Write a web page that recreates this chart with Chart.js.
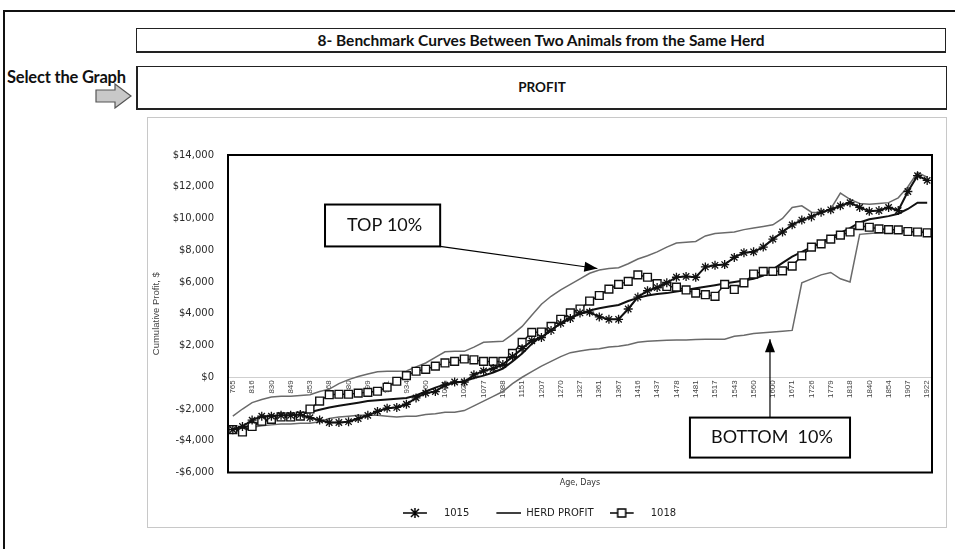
<!DOCTYPE html>
<html>
<head>
<meta charset="utf-8">
<script src="https://cdn.jsdelivr.net/npm/chart.js@4.4.1/dist/chart.umd.min.js"></script>
<style>
  body { margin: 0; width: 955px; height: 549px; overflow: hidden; background: #fff; position: relative; font-family: Lato, sans-serif; }
  #frame { position: absolute; left: 3px; top: 10px; width: 1000px; height: 600px; border: 2px solid #111; }
  .box { position: absolute; left: 136px; width: 808px; border: 1px solid #222; text-align: center; font-weight: bold; color: #111; }
  #title { top: 28px; height: 22px; line-height: 22px; font-size: 15.5px; border-bottom-width: 2px; }
  #graph { top: 66px; height: 41px; line-height: 41px; font-size: 13.5px; border-left-width: 2px; border-bottom-width: 2px; }
  #select { position: absolute; left: 7px; top: 67px; font-size: 16.5px; font-weight: bold; color: #111; letter-spacing: -0.2px; }
  #arrow { position: absolute; left: 95px; top: 83px; }
  #chartBox { position: absolute; left: 147px; top: 117px; width: 798px; height: 409px; border: 1px solid #c8c8c8; }
  #wrap { position: absolute; left: 147px; top: 117px; }
</style>
</head>
<body>
<div id="frame"></div>
<div class="box" id="title">8- Benchmark Curves Between Two Animals from the Same Herd</div>
<div id="select">Select the Graph</div>
<svg id="arrow" width="38" height="26"><polygon points="1,7 20,7 20,1 36,13 20,25 20,19 1,19" fill="#c8c8c8" stroke="#555" stroke-width="1.2"/></svg>
<div class="box" id="graph">PROFIT</div>
<div id="chartBox"></div>
<div id="wrap"><canvas id="myChart" width="799" height="411"></canvas></div>
<script>
// age in days (every other one is printed on the axis)
var days = [765, 790, 816, 823, 830, 840, 849, 851, 853, 860,
            868, 874, 880, 890, 899, 905, 911, 925, 934, 948,
            960, 990, 1021, 1024, 1027, 1050, 1077, 1082, 1088, 1120,
            1151, 1180, 1207, 1240, 1270, 1300, 1327, 1345, 1361, 1364,
            1367, 1390, 1416, 1425, 1437, 1455, 1478, 1480, 1481, 1500,
            1517, 1530, 1543, 1551, 1560, 1580, 1600, 1640, 1671, 1700,
            1726, 1750, 1779, 1800, 1818, 1830, 1840, 1847, 1854, 1880,
            1907, 1915, 1922]

var animal1015 = [-3300, -3100, -2700, -2450, -2450, -2400, -2400, -2350, -2550, -2700,
                  -2850, -2850, -2800, -2600, -2400, -2150, -1950, -1900, -1700, -1300,
                  -1000, -900, -500, -300, -300, 150, 400, 550, 800, 1300,
                  1800, 2300, 2500, 2950, 3400, 3700, 4050, 4100, 3800, 3650,
                  3650, 4300, 5050, 5450, 5650, 5950, 6300, 6350, 6300, 6950,
                  7050, 7100, 7550, 7850, 7900, 8200, 8700, 9150, 9600, 9900,
                  10100, 10400, 10550, 10800, 11000, 10700, 10450, 10500, 10700, 10500,
                  11700, 12700, 12400]

var herdProfit = [-3350, -3200, -3000, -2800, -2650, -2550, -2450, -2300, -2200, -2050,
                  -1900, -1800, -1700, -1600, -1500, -1450, -1400, -1350, -1300, -1150,
                  -900, -650, -450, -350, -250, -50, 100, 300, 550, 1000,
                  1500, 2100, 2600, 3000, 3400, 3750, 4000, 4200, 4350, 4450,
                  4550, 4800, 5000, 5150, 5250, 5300, 5400, 5500, 5600, 5700,
                  5800, 5900, 6000, 6100, 6200, 6400, 6800, 7200, 7600, 7900,
                  8200, 8500, 8800, 9100, 9400, 9750, 9950, 10050, 10150, 10300,
                  10600, 11000, 11000]

var animal1018 = [-3300, -3450, -3100, -2770, -2650, -2500, -2500, -2450, -2000, -1500,
                  -1100, -1070, -1070, -1000, -950, -880, -630, -250, 100, 380,
                  500, 700, 900, 1000, 1150, 1100, 1000, 1000, 1000, 1500,
                  2200, 2830, 2850, 3200, 3650, 4050, 4300, 4800, 5150, 5550,
                  5850, 6040, 6450, 6300, 5900, 5720, 5680, 5500, 5300, 5200,
                  5100, 5850, 5530, 5950, 6500, 6670, 6670, 6700, 7000, 7650,
                  8200, 8400, 8700, 8950, 9150, 9550, 9450, 9350, 9300, 9280,
                  9180, 9150, 9100]

var top10 = [-2450, -2000, -1600, -1400, -1250, -1200, -1200, -1150, -1100, -900,
             -750, -400, -150, 50, 200, 350, 380, 380, 400, 650,
             900, 1250, 1600, 1630, 1630, 1900, 2200, 2230, 2260, 2700,
             3200, 3900, 4600, 5100, 5500, 5850, 6200, 6550, 6750, 6850,
             6900, 7150, 7450, 7650, 7900, 8200, 8450, 8500, 8550, 8900,
             9050, 9100, 9150, 9300, 9400, 9500, 9600, 10000, 10700, 10800,
             10400, 10350, 10600, 11600, 11200, 10950, 10900, 10950, 11000, 11300,
             12000, 12900, 12600]

var bottom10 = [-3350, -3250, -3150, -3050, -3000, -2950, -2950, -2900, -2900, -2800,
                -2600, -2500, -2450, -2400, -2400, -2400, -2450, -2500, -2450, -2450,
                -2350, -2300, -2200, -2200, -2100, -1800, -1500, -1200, -900, -400,
                0, 350, 700, 1000, 1300, 1550, 1650, 1750, 1800, 1900,
                1950, 2050, 2200, 2260, 2300, 2330, 2350, 2350, 2380, 2390,
                2400, 2400, 2580, 2650, 2750, 2800, 2850, 2900, 2950, 5950,
                6200, 6450, 6600, 6200, 6000, 9000, 9050, 9100, 9100, 9150,
                9150, 9200, 9200]

var yTicks = [-6000, 14000, 2000]   // min, max, step

// callouts: [category index, profit]
var callouts = [
    {text: 'TOP 10%', box: [9.56, 21.5, 10880, 8240], from: [21.5, 8240], to: [37.8, 6850]},
    {text: 'BOTTOM  10%', box: [47.4, 64.0, -2540, -5060], from: [55.7, -2540], to: [55.7, 2400]}
]

function legendIcon(kind) {
    var c = document.createElement('canvas')
    c.width = 36; c.height = 12
    var g = c.getContext('2d')
    g.strokeStyle = '#000'
    g.lineWidth = 1.5
    var x0 = kind == 'line' ? 11 : 0
    var x1 = kind == 'line' ? 36 : 24
    var cx = (x0 + x1) / 2
    g.beginPath(); g.moveTo(x0, 6); g.lineTo(x1, 6); g.stroke()
    if (kind == 'star') {
        g.beginPath()
        g.moveTo(cx - 4, 2); g.lineTo(cx + 4, 10)
        g.moveTo(cx + 4, 2); g.lineTo(cx - 4, 10)
        g.moveTo(cx, 1); g.lineTo(cx, 11)
        g.stroke()
    } else if (kind == 'rect') {
        g.fillStyle = '#fff'
        g.fillRect(cx - 4, 2, 8, 8)
        g.strokeRect(cx - 4, 2, 8, 8)
    }
    return c
}
var icons = [legendIcon('star'), legendIcon('line'), legendIcon('rect')]

var frameAndNotes = {
    id: 'frameAndNotes',
    afterDraw: function(chart) {
        var ctx = chart.ctx, a = chart.chartArea
        var x = chart.scales.x, y = chart.scales.y
        ctx.save()
        ctx.strokeStyle = '#000'
        ctx.lineWidth = 2
        ctx.strokeRect(a.left, a.top, a.right - a.left, a.bottom - a.top)

        callouts.forEach(function(c) {
            var sx = x.getPixelForValue(c.from[0]), sy = y.getPixelForValue(c.from[1])
            var tx = x.getPixelForValue(c.to[0]), ty = y.getPixelForValue(c.to[1])
            var ang = Math.atan2(ty - sy, tx - sx)
            ctx.lineWidth = 1.2
            ctx.beginPath(); ctx.moveTo(sx, sy); ctx.lineTo(tx, ty); ctx.stroke()
            ctx.beginPath()
            ctx.moveTo(tx, ty)
            ctx.lineTo(tx - 13 * Math.cos(ang) + 5 * Math.sin(ang), ty - 13 * Math.sin(ang) - 5 * Math.cos(ang))
            ctx.lineTo(tx - 13 * Math.cos(ang) - 5 * Math.sin(ang), ty - 13 * Math.sin(ang) + 5 * Math.cos(ang))
            ctx.closePath()
            ctx.fillStyle = '#000'
            ctx.fill()

            var l = x.getPixelForValue(c.box[0]), r = x.getPixelForValue(c.box[1])
            var t = y.getPixelForValue(c.box[2]), b = y.getPixelForValue(c.box[3])
            ctx.fillStyle = '#fff'
            ctx.fillRect(l, t, r - l, b - t)
            ctx.lineWidth = 2
            ctx.strokeRect(l, t, r - l, b - t)
            ctx.fillStyle = '#111'
            ctx.font = '18px Lato'
            ctx.textAlign = 'center'
            ctx.textBaseline = 'middle'
            ctx.fillText(c.text, (l + r) / 2 + 2, (t + b) / 2)
        })
        ctx.restore()
    }
}

function money(v) {
    var s = '$' + Math.abs(v).toLocaleString('en-US')
    return v < 0 ? '-' + s : s
}

Chart.defaults.font.family = 'DejaVu Sans'

var ctx = document.getElementById('myChart')
var myChart = new Chart(ctx, {
    type: 'line',
    data: {
        labels: days,
        datasets: [{
            label: '1015',
            data: animal1015,
            borderColor: '#111',
            borderWidth: 2,
            pointStyle: 'star',
            pointRadius: 4.5,
            pointBorderWidth: 1.3,
            pointBorderColor: '#111',
            pointBackgroundColor: '#111',
            order: 1
        }, {
            label: 'HERD PROFIT',
            data: herdProfit,
            borderColor: '#111',
            borderWidth: 2,
            pointRadius: 0,
            order: 3
        }, {
            label: '1018',
            data: animal1018,
            borderColor: '#111',
            borderWidth: 1.5,
            pointStyle: 'rect',
            pointRadius: 5.5,
            pointBorderWidth: 1.4,
            pointBorderColor: '#111',
            pointBackgroundColor: '#fff',
            order: 2
        }, {
            label: 'TOP 10%',
            data: top10,
            borderColor: '#6a6a6a',
            borderWidth: 1.5,
            pointRadius: 0,
            order: 4
        }, {
            label: 'BOTTOM 10%',
            data: bottom10,
            borderColor: '#6a6a6a',
            borderWidth: 1.5,
            pointRadius: 0,
            order: 5
        }]
    },
    options: {
        responsive: false,
        animation: false,
        layout: {padding: {left: 0, right: 14, top: 38, bottom: 0}},
        elements: {line: {tension: 0}},
        scales: {
            x: {
                type: 'category',
                position: {y: 0},
                offset: true,
                afterFit: function(s) { s.height = 0 },
                grid: {display: false, drawTicks: false},
                border: {color: '#cfcfcf', width: 1},
                ticks: {
                    autoSkip: false,
                    minRotation: 90,
                    maxRotation: 90,
                    padding: 3,
                    color: '#444',
                    font: {family: 'Liberation Sans', size: 8},
                    callback: function(v, i) { return i % 2 == 0 ? this.getLabelForValue(v) : '' }
                }
            },
            x2: {
                type: 'category',
                position: 'bottom',
                offset: true,
                afterFit: function(s) { s.height = 19.5 },
                grid: {display: false, drawTicks: false},
                border: {display: false},
                ticks: {display: false},
                title: {display: true, text: 'Age, Days', color: '#333', font: {size: 8}, padding: {top: 0, bottom: 4}}
            },
            y: {
                min: yTicks[0],
                max: yTicks[1],
                afterFit: function(s) { s.width = 81 },
                grid: {display: false, drawTicks: false},
                border: {display: false},
                ticks: {
                    stepSize: yTicks[2],
                    padding: 14,
                    color: '#2a2a2a',
                    font: {size: 10},
                    callback: function(v) { return money(v) }
                },
                title: {display: true, text: 'Cumulative Profit, $', color: '#444', font: {family: 'Liberation Sans', size: 9.5}, padding: {top: 4, bottom: 0}}
            }
        },
        plugins: {
            legend: {
                position: 'bottom',
                labels: {
                    usePointStyle: true,
                    pointStyleWidth: 36,
                    padding: 16,
                    color: '#222',
                    font: {size: 10},
                    sort: function(a, b) { return a.datasetIndex - b.datasetIndex },
                    generateLabels: function(chart) {
                        var items = Chart.defaults.plugins.legend.labels.generateLabels(chart)
                        return items.filter(function(it) { return it.datasetIndex < 3 })
                            .map(function(it) { it.pointStyle = icons[it.datasetIndex]; return it })
                    }
                }
            },
            tooltip: {enabled: false}
        }
    },
    plugins: [frameAndNotes]
})
</script>
</body>
</html>
